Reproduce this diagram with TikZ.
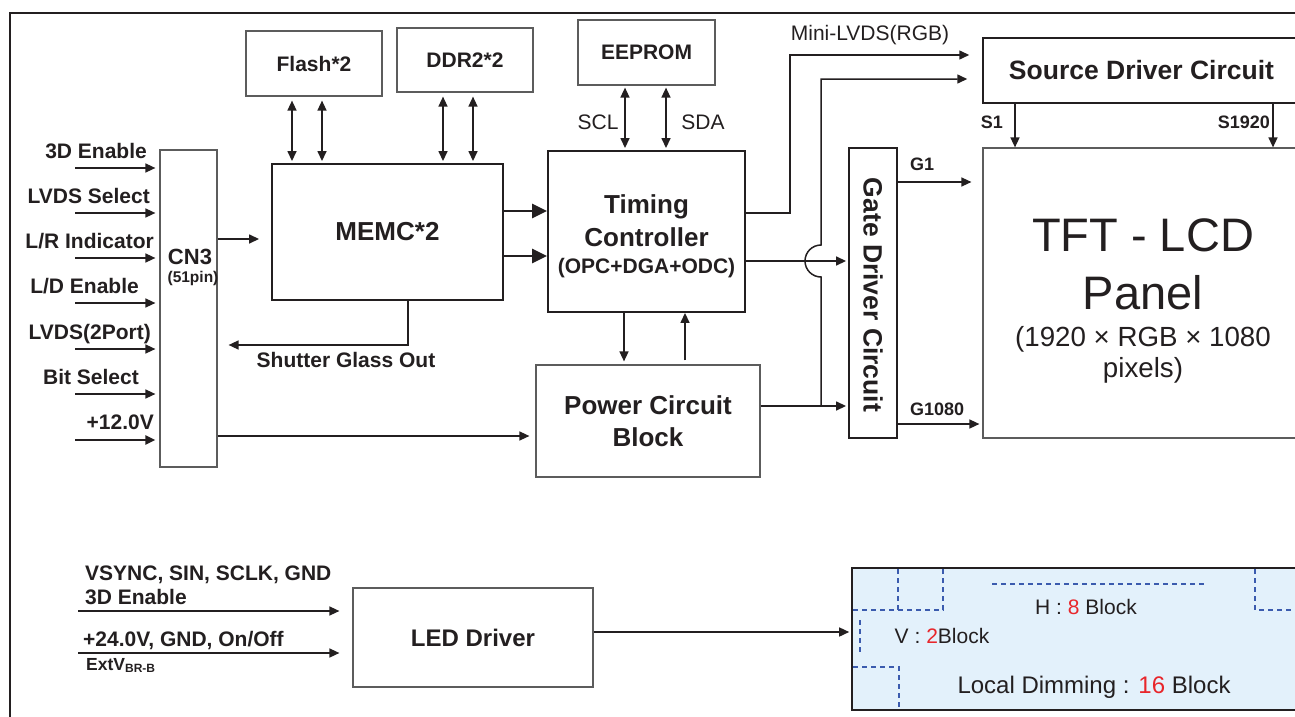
\documentclass[tikz,border=0pt]{standalone}
\usepackage{fontspec}
\setmainfont{Liberation Sans}
\usepackage{xcolor}
\usetikzlibrary{arrows.meta, positioning}

\definecolor{ink}{HTML}{231F20}
\definecolor{rim}{HTML}{5C5C5C}
\definecolor{ldfill}{HTML}{E3F1FB}
\definecolor{ldline}{HTML}{3B5BAE}
\definecolor{ldred}{HTML}{E8262B}

\newcommand{\tagfont}{\fontsize{21}{25}\selectfont\bfseries}
\newcommand{\headfont}{\fontsize{26}{32}\selectfont\bfseries}
\newcommand{\pinfont}{\fontsize{18}{22}\selectfont\bfseries}
\newcommand{\plainfont}{\fontsize{21}{25}\selectfont}

\begin{document}
\begin{tikzpicture}[x=1pt, y=-1pt,
  box/.style={draw=rim, line width=1.2pt, fill=white, inner sep=0pt, align=center, text=ink},
  darkbox/.style={box, draw=ink, line width=1.9pt},
  arr/.style={draw=ink, line width=1.5pt, -{Triangle[length=10pt, width=9pt]}},
  biarr/.style={draw=ink, line width=1.5pt, {Triangle[length=10pt, width=9pt]}-{Triangle[length=10pt, width=9pt]}},
  busarr/.style={draw=ink, line width=2.5pt, -{Triangle[length=15pt, width=14pt]}},
  tag/.style={text=ink, inner sep=0pt, font=\tagfont},
  dimline/.style={draw=ldline, line width=1.3pt, dash pattern=on 5pt off 4pt},
]
  \useasboundingbox (0,0) rectangle (1295,717);
  % outer frame, cut by the page edge
  \draw[ink, line width=2pt] (10,717) -- (10,13) -- (1295,13);

  % memories and controllers
  \node[box, minimum width=136pt, minimum height=65pt, font=\tagfont] (flash) at (314,63.5) {Flash*2};
  \node[box, minimum width=136pt, minimum height=64pt, font=\tagfont] (ddr) at (465,60) {DDR2*2};
  \node[box, minimum width=137pt, minimum height=65pt, font=\tagfont] (eeprom) at (646.5,52.5) {EEPROM};
  \node[darkbox, minimum width=231pt, minimum height=136pt, font=\headfont] (memc) at (387.5,232) {MEMC*2};
  \node[darkbox, minimum width=197pt, minimum height=161pt] (tcon) at (646.5,231.5) {};
  \node[tag, align=center, font=\headfont] (tconname) at (646.5,236)
    {Timing\\[1pt]Controller\\[-5pt]{\tagfont (OPC+DGA+ODC)}};
  \node[box, minimum width=224pt, minimum height=112pt, font=\headfont] (power) at (648,421) {Power Circuit\\Block};

  % connector CN3 and its inputs
  \node[box, minimum width=57pt, minimum height=317pt] (cn3) at (188.5,308.5) {};
  \node[tag, font=\fontsize{22}{26}\selectfont\bfseries] (cn3name) at (190,257) {CN3};
  \node[tag, font=\fontsize{15.5}{18}\selectfont\bfseries] (cn3pin) at (193,278) {(51pin)};
  \foreach \i/\y/\xr/\txt in {1/168/147/3D Enable, 2/213/150/LVDS Select, 3/258/154/{L/R Indicator},
      4/303/139/{L/D Enable}, 5/349/151/LVDS(2Port), 6/394/139/Bit Select} {
    \coordinate (in\i) at (75,\y);
    \draw[arr, shorten >=4pt] (in\i) -- (cn3.west |- in\i);
    \node[tag, anchor=base east] (inname\i) at (\xr,\y-10) {\txt};
  }
  \coordinate (v12) at (75,440);
  \draw[arr, line width=2.6pt, shorten >=4pt] (v12) -- (cn3.west |- v12);
  \node[tag, anchor=base east] (v12name) at (154,429) {+12.0V};

  % panel side
  \node[darkbox, line width=1.5pt, minimum width=317pt, minimum height=65pt,
    font=\fontsize{26.5}{32}\selectfont\bfseries] (source) at (1141.5,70.5) {Source Driver Circuit};
  \node[box, minimum width=317pt, minimum height=290pt] (panel) at (1141.5,293) {};
  \node[darkbox, minimum width=48pt, minimum height=290pt] (gate) at (873,293) {};
  \node[tag, rotate=-90, font=\fontsize{26.5}{32}\selectfont\bfseries] (gatename) at (873,295) {Gate Driver Circuit};
  \node[tag, font=\fontsize{47}{56}\selectfont, anchor=base] (tft) at (1143,251) {TFT - LCD};
  \node[tag, font=\fontsize{47}{56}\selectfont, anchor=base] (pname) at (1143,309) {Panel};
  \node[tag, font=\fontsize{27.7}{32}\selectfont, anchor=base] (psize) at (1143,346) {(1920 × RGB × 1080};
  \node[tag, font=\fontsize{27.7}{32}\selectfont, anchor=base] (ppix) at (1143,377) {pixels)};
  \node[tag, font=\pinfont, anchor=base east] (s1) at (1003,128) {S1};
  \node[tag, font=\pinfont, anchor=base east] (s1920) at (1270,128) {S1920};
  \node[tag, font=\pinfont, anchor=base west] (g1) at (910,170) {G1};
  \node[tag, font=\pinfont, anchor=base west] (g1080) at (910,415) {G1080};

  % links
  \foreach \x in {292,322}
    \draw[biarr, shorten <=4pt, shorten >=2pt] (flash.south -| \x,0) -- (memc.north -| \x,0);
  \foreach \x in {443,473}
    \draw[biarr, shorten <=4pt, shorten >=2pt] (ddr.south -| \x,0) -- (memc.north -| \x,0);
  \foreach \x in {625,666}
    \draw[biarr, shorten <=2pt, shorten >=2pt] (eeprom.south -| \x,0) -- (tcon.north -| \x,0);
  \node[tag, font=\plainfont] (scl) at (598,122) {SCL};
  \node[tag, font=\plainfont] (sda) at (703,122) {SDA};
  \foreach \y in {211,256}
    \draw[busarr] (memc.east |- 0,\y) -- (tcon.west |- 0,\y);
  \draw[arr, shorten >=12pt] (cn3.east |- 0,239) -- (memc.west |- 0,239);
  \draw[arr, shorten >=11pt] (memc.south -| 408,0) |- (cn3.east |- 0,345);
  \node[tag] (shutter) at (346,360) {Shutter Glass Out};
  \draw[arr, shorten >=3pt] (tcon.south -| 624,0) -- (power.north -| 624,0);
  \draw[arr, shorten <=4pt] (power.north -| 685,0) -- (tcon.south -| 685,0);
  \draw[arr, shorten >=6pt] (cn3.east |- 0,436) -- (power.west |- 0,436);

  \coordinate (minilvds) at (790,55);
  \draw[arr, shorten >=13pt] (tcon.east |- 0,213) -| (minilvds) -- (source.west |- minilvds);
  \node[tag, font=\plainfont, anchor=base] (lvdsname) at (870,41) {Mini-LVDS(RGB)};
  \coordinate (pwrjoin) at (821,406);
  \draw[arr, shorten >=2pt] (power.east |- pwrjoin) -- (gate.west |- pwrjoin);
  \draw[arr, shorten >=15pt] (pwrjoin) -- (821,277) arc[start angle=90, end angle=270, radius=16]
    -- (821,79) -- (source.west |- 0,79);
  \draw[arr, shorten >=2pt] (tcon.east |- 0,261) -- (gate.west |- 0,261);
  \draw[arr, shorten >=11pt] (gate.east |- 0,182) -- (panel.west |- 0,182);
  \draw[arr, shorten >=3pt] (gate.east |- 0,424) -- (panel.west |- 0,424);
  \draw[arr] (source.south -| 1015,0) -- (panel.north -| 1015,0);
  \draw[arr] (source.south -| 1273,0) -- (panel.north -| 1273,0);

  % backlight
  \node[box, minimum width=240pt, minimum height=99pt, font=\fontsize{24}{28}\selectfont\bfseries] (led) at (473,637.5) {LED Driver};
  \coordinate (ledin1) at (78,611);
  \coordinate (ledin2) at (78,653);
  \draw[arr, shorten >=13pt] (ledin1) -- (led.west |- ledin1);
  \draw[arr, shorten >=13pt] (ledin2) -- (led.west |- ledin2);
  \node[tag, anchor=base west] (ledname1) at (85,580) {VSYNC, SIN, SCLK, GND};
  \node[tag, anchor=base west] (ledname2) at (85,604) {3D Enable};
  \node[tag, anchor=base west] (ledname3) at (83,646) {+24.0V, GND, On/Off};
  \node[tag, anchor=base west, font=\fontsize{17.5}{20}\selectfont\bfseries] (ledname4) at (86,670)
    {ExtV\raisebox{-2pt}{\fontsize{12}{14}\selectfont BR-B}};

  \node[draw=ink, line width=1.6pt, fill=ldfill, minimum width=448pt, minimum height=142pt, inner sep=0pt] (dimming) at (1076,639) {};
  \draw[arr, shorten >=2pt] (led.east |- 0,632) -- (dimming.west |- 0,632);
  \draw[dimline] (853,610) -- (943,610) -- (943,569);
  \draw[dimline] (898,569) -- (898,610);
  \draw[dimline] (992,584) -- (1207,584);
  \draw[dimline] (1255,569) -- (1255,610) -- (1295,610);
  \draw[dimline] (860,620) -- (860,652);
  \draw[dimline] (853,667) -- (899,667) -- (899,709);
  \node[tag, font=\plainfont, anchor=base] (hblk) at (1086,614) {H : \textcolor{ldred}{8} Block};
  \node[tag, font=\plainfont, anchor=base] (vblk) at (942,643) {V : \textcolor{ldred}{2}Block};
  \node[tag, font=\fontsize{24}{28}\selectfont, anchor=base] (ldblk) at (1094,693) {Local Dimming : \textcolor{ldred}{16} Block};
\end{tikzpicture}
\end{document}
